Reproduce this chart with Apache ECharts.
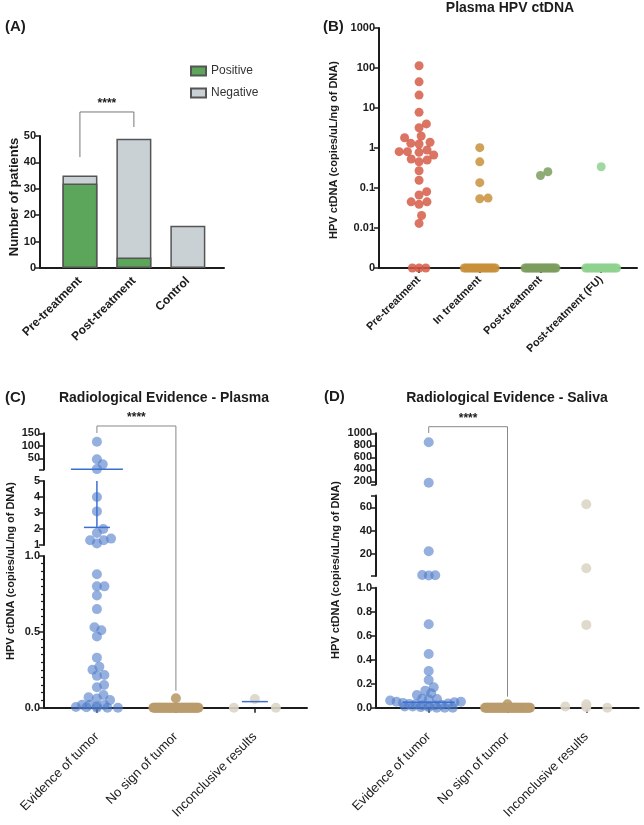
<!DOCTYPE html>
<html><head><meta charset="utf-8">
<script src="https://cdn.jsdelivr.net/npm/echarts@6/dist/echarts.min.js"></script>
<style>html,body{margin:0;padding:0;background:#fff}#c{width:644px;height:825px}</style>
</head><body><div id="c"></div>
<script>
// ---------------- DATA ----------------
// (A) Number of patients
const aCategories = ['Pre-treatment', 'Post-treatment', 'Control'];
const aSeriesNames = ['Positive', 'Negative'];
const aPositive = [32, 4, 0];
const aNegative = [3, 45, 16];

// (B) Plasma HPV ctDNA (copies/uL/ng of DNA)
const bCategories = ['Pre-treatment', 'In treatment', 'Post-treatment', 'Post-treatment (FU)'];
const bPreTreatment = [114, 45, 21, 7.8, 4.0, 3.2, 2.0, 1.8, 1.39, 1.31, 1.26, 0.89, 0.81, 0.81, 0.78, 0.67, 0.53, 0.50, 0.45, 0.27, 0.156, 0.081, 0.067, 0.045, 0.045, 0.039, 0.0205, 0.013, 0, 0, 0];
const bInTreatment = [1.02, 0.45, 0.136, 0.056, 0.054, 0, 0, 0, 0, 0, 0, 0, 0, 0, 0, 0, 0, 0, 0, 0, 0, 0, 0];
const bPostTreatment = [0.255, 0.205, 0, 0, 0, 0, 0, 0, 0, 0, 0, 0, 0, 0, 0, 0, 0, 0, 0, 0, 0, 0];
const bPostTreatmentFU = [0.34, 0, 0, 0, 0, 0, 0, 0, 0, 0, 0, 0, 0, 0, 0, 0, 0, 0, 0];
const bTickValues = [0.001, 0.01, 0.1, 1, 10, 100, 1000];
const bTickLabels = ['0', '0.01', '0.1', '1', '10', '100', '1000'];

// (C) Radiological Evidence - Plasma
const cCategories = ['Evidence of tumor', 'No sign of tumor', 'Inconclusive results'];
const cEvidence = [116, 46, 26, 7, 4.0, 3.1, 2.0, 1.75, 1.4, 1.3, 1.3, 1.1, 0.88, 0.80, 0.80, 0.74, 0.65, 0.53, 0.51, 0.47, 0.33, 0.27, 0.25, 0.215, 0.21, 0.15, 0.135, 0.084, 0.069, 0.06, 0.05, 0.02, 0.02, 0.018, 0.01, 0.005, 0.003, 0, 0, 0];
const cNoSign = [0.062, 0, 0, 0, 0, 0, 0, 0, 0, 0, 0, 0, 0, 0, 0, 0, 0, 0, 0, 0, 0, 0, 0, 0, 0, 0, 0, 0, 0, 0, 0, 0, 0, 0, 0, 0, 0, 0, 0, 0, 0];
const cInconclusive = [0.057, 0, 0];
const cCentre = [6, null, 0.04];
const cErrorLow = [2.1, null, null];

// (D) Radiological Evidence - Saliva
const dCategories = ['Evidence of tumor', 'No sign of tumor', 'Inconclusive results'];
const dEvidence = [850, 175, 22.2, 1.8, 1.6, 1.5, 0.695, 0.447, 0.306, 0.231, 0.17, 0.142, 0.12, 0.106, 0.075, 0.072, 0.07, 0.06, 0.05, 0.05, 0.045, 0.04, 0.035, 0.03, 0.03, 0.025, 0.02, 0.02, 0.015, 0.01, 0.01, 0.005, 0.005, 0, 0, 0];
const dNoSign = [0.028, 0, 0, 0, 0, 0, 0, 0, 0, 0, 0, 0, 0, 0, 0, 0, 0, 0, 0, 0, 0, 0, 0, 0, 0, 0, 0, 0, 0, 0, 0, 0, 0, 0, 0, 0, 0, 0, 0, 0, 0];
const dInconclusive = [62.6, 7.7, 0.69, 0.028, 0.01, 0.005, 0];
const dCentre = [0.045, null, null];

// ---------------- STYLE / LAYOUT ----------------
const FONT = '"Liberation Sans", Arial, Helvetica, sans-serif';
const INK = '#1c1c1c';
const chart = echarts.init(document.getElementById('c'), null, {renderer: 'canvas'});

const grids = [
  {left: 40, top: 136, width: 184, height: 132},      // 0 A
  {left: 379, top: 28, width: 258, height: 240},      // 1 B
  {left: 44, top: 433.3, width: 263, height: 36.3},   // 2 C top
  {left: 44, top: 481, width: 263, height: 64},       // 3 C mid
  {left: 44, top: 556, width: 263, height: 151.7},    // 4 C bottom
  {left: 376, top: 433.3, width: 262.7, height: 51},  // 5 D top
  {left: 376, top: 495.6, width: 262.7, height: 80.4},// 6 D mid
  {left: 376, top: 587.7, width: 262.7, height: 120}  // 7 D bottom
];

const axLine = {show: true, onZero: false, lineStyle: {color: INK, width: 2}};
const tickLbl = {fontSize: 11, fontWeight: 'bold', color: INK, fontFamily: FONT, margin: 4, formatter: v => String(v)};
const yTick = {show: true, length: 5, lineStyle: {color: INK, width: 1.5}};

function catX(grid, min, max, cats, vals, extra) {
  return {
    gridIndex: grid, type: 'value', min: min, max: max,
    axisLine: axLine, splitLine: {show: false},
    axisTick: {show: true, customValues: vals, length: 5, lineStyle: {color: INK, width: 1.5}},
    axisLabel: Object.assign({}, tickLbl, {customValues: vals, formatter: v => cats[Math.round(v) - 1], rotate: 45}, extra)
  };
}
function hiddenX(grid, min, max) {
  return {gridIndex: grid, type: 'value', min: min, max: max, show: false};
}

const xAxes = [
  catX(0, 0.26, 3.67, aCategories, [1, 2, 3], {fontSize: 12, margin: 11}),
  catX(1, 0.34, 4.59, bCategories, [1, 2, 3, 4], {fontSize: 11, margin: 10}),
  hiddenX(2, 0.33, 3.66), hiddenX(3, 0.33, 3.66),
  catX(4, 0.33, 3.66, cCategories, [1, 2, 3], {fontSize: 13, fontWeight: 'normal', margin: 27}),
  hiddenX(5, 0.331, 3.665), hiddenX(6, 0.331, 3.665),
  catX(7, 0.331, 3.665, dCategories, [1, 2, 3], {fontSize: 13, fontWeight: 'normal', margin: 27})
];
xAxes[0].axisTick = {show: false};

function yAx(grid, o) {
  return Object.assign({gridIndex: grid, type: 'value', axisLine: axLine, splitLine: {show: false},
    axisTick: yTick, axisLabel: Object.assign({}, tickLbl)}, o);
}
const fmt1 = {formatter: v => v.toFixed(1)};
const yAxes = [
  yAx(0, {min: 0, max: 50, interval: 10}),
  yAx(1, {type: 'log', logBase: 10, min: 0.001, max: 1000, splitNumber: 6,
    axisTick: Object.assign({}, yTick, {customValues: bTickValues}),
    axisLabel: Object.assign({}, tickLbl, {customValues: bTickValues,
      formatter: v => bTickLabels[Math.round(Math.log10(v)) + 3]})}),
  yAx(2, {min: 5, max: 150, axisTick: Object.assign({}, yTick, {customValues: [5, 50, 100, 150]}),
    axisLabel: Object.assign({}, tickLbl, {customValues: [50, 100, 150]})}),
  yAx(3, {min: 1, max: 5, interval: 1}),
  yAx(4, {min: 0, max: 1, interval: 0.5, minorTick: {show: true, splitNumber: 10, length: 3, lineStyle: {color: INK, width: 1.2}},
    axisLabel: Object.assign({}, tickLbl, fmt1)}),
  yAx(5, {min: 150, max: 1000, axisTick: Object.assign({}, yTick, {customValues: [150, 200, 400, 600, 800, 1000]}),
    axisLabel: Object.assign({}, tickLbl, {customValues: [200, 400, 600, 800, 1000]})}),
  yAx(6, {min: 1, max: 70, axisTick: Object.assign({}, yTick, {customValues: [1, 20, 40, 60, 70]}),
    axisLabel: Object.assign({}, tickLbl, {customValues: [20, 40, 60]})}),
  yAx(7, {min: 0, max: 1, interval: 0.2, axisLabel: Object.assign({}, tickLbl, fmt1)})
];

// ---------- scatter panels ----------
const panels = [
  {groups: [bPreTreatment, bInTreatment, bPostTreatment, bPostTreatmentFU],
   colors: ['#d65c48', '#c8913c', '#7d9e5e', '#8fd28f'], opac: [0.85, 0.85, 0.85, 0.85],
   segs: [{axis: 1, lo: 0.001, hi: 1000}], size: 9, D: 8.3, band: [6.7, 15.5, 15.5, 15.5]},
  {groups: [cEvidence, cNoSign, cInconclusive],
   colors: ['#4f7cc9', '#b99b6d', '#ddd6c8'], opac: [0.6, 0.9, 0.9],
   segs: [{axis: 4, lo: 0, hi: 1}, {axis: 3, lo: 1, hi: 5}, {axis: 2, lo: 5, hi: 150}], size: 10, D: 7.5, band: [21, 22.5, 21]},
  {groups: [dEvidence, dNoSign, dInconclusive],
   colors: ['#4f7cc9', '#b99b6d', '#ddd6c8'], opac: [0.6, 0.9, 0.9],
   segs: [{axis: 7, lo: 0, hi: 1}, {axis: 6, lo: 1, hi: 70}, {axis: 5, lo: 150, hi: 1000}], size: 10, D: 6.5, band: [24, 22.5, 21]}
];

// Bars: the "Negative" bar is drawn at its stacked top (Positive + Negative) behind the Positive bar.
const series = [
  {name: aSeriesNames[1], type: 'bar', xAxisIndex: 0, yAxisIndex: 0, barWidth: 35, barGap: '-100%', z: 2,
   data: aNegative.map((v, i) => [i + 1, aPositive[i] + v]),
   itemStyle: {color: '#c9d1d4', borderColor: '#555', borderWidth: 1.5}},
  {name: aSeriesNames[0], type: 'bar', xAxisIndex: 0, yAxisIndex: 0, barWidth: 35, barGap: '-100%', z: 3,
   data: aPositive.map((v, i) => [i + 1, v > 0 ? v : '-']),
   itemStyle: {color: '#5ba65b', borderColor: '#555', borderWidth: 1.5}}
];
const points = [];
panels.forEach(p => {
  p.groups.forEach((arr, g) => {
    p.segs.forEach(s => {
      const si = series.length;
      const ser = {type: 'scatter', xAxisIndex: s.axis, yAxisIndex: s.axis, symbolSize: p.size,
        itemStyle: {color: p.colors[g], opacity: p.opac[g]}, data: [], z: 3};
      arr.forEach(v => {
        const seg = p.segs.find(q => v <= q.hi);
        if (seg !== s) return;
        const vp = Math.max(v, s.lo);
        points.push({p, g, v, vp, axis: s.axis, si, di: ser.data.length});
        ser.data.push([g + 1, vp]);
      });
      series.push(ser);
    });
  });
});

chart.setOption({
  animation: false,
  grid: grids, xAxis: xAxes, yAxis: yAxes, series: series,
  legend: {data: aSeriesNames, orient: 'vertical', left: 190, top: 65, padding: 0, itemWidth: 15, itemHeight: 9,
    itemGap: 10, icon: 'rect', selectedMode: false,
    textStyle: {fontSize: 12, color: '#333', fontFamily: FONT}}
});

// ---------- beeswarm layout (pixel space via axes) ----------
function px(axis, x, y) { return chart.convertToPixel({xAxisIndex: axis, yAxisIndex: axis}, [x, y]); }
function swarm(items, D, bandHalf) {
  const out = items.map(() => 0);
  const band = [], rest = [];
  items.forEach((it, i) => (it.base ? band : rest).push(i));
  band.forEach((i, k) => { out[i] = band.length > 1 ? -bandHalf + 2 * bandHalf * k / (band.length - 1) : 0; });
  const placed = [];
  rest.sort((a, b) => items[b].py - items[a].py);
  rest.forEach(i => {
    const y = items[i].py, blocks = [];
    placed.forEach(q => { const dy = Math.abs(q.y - y); if (dy < D) { const w = Math.sqrt(D * D - dy * dy); blocks.push([q.x - w, q.x + w]); } });
    const cands = [0];
    blocks.forEach(b => cands.push(b[0], b[1]));
    cands.sort((a, b) => Math.abs(a) - Math.abs(b) || b - a);
    let x = 0;
    for (const c of cands) { if (!blocks.some(b => c > b[0] + 1e-6 && c < b[1] - 1e-6)) { x = c; break; } }
    out[i] = x; placed.push({x, y});
  });
  return out;
}
panels.forEach(p => {
  const bs = p.segs[0];
  const basePy = px(bs.axis, 1, bs.lo)[1];
  const unit = px(bs.axis, 2, bs.lo)[0] - px(bs.axis, 1, bs.lo)[0];
  p.groups.forEach((arr, g) => {
    const pts = points.filter(q => q.p === p && q.g === g);
    const items = pts.map(q => { const py = px(q.axis, g + 1, q.vp)[1]; return {py, base: q.v === 0 || py > basePy - 1.5}; });
    const dx = swarm(items, p.D, p.band[g]);
    pts.forEach((q, k) => { series[q.si].data[q.di] = [g + 1 + dx[k] / unit, q.vp]; });
  });
});

// ---------- annotations ----------
const G = [];
function txt(x, y, text, o) {
  G.push({type: 'text', x, y, rotation: (o && o.rot) || 0, z: 10,
    style: Object.assign({text, fontFamily: FONT, fontSize: 12, fontWeight: 'bold', fill: INK, align: 'center', verticalAlign: 'middle'}, o || {})});
}
function pl(points, color, w) {
  G.push({type: 'polyline', z: 10, shape: {points}, style: {stroke: color, lineWidth: w, fill: null}});
}
// panel letters & titles
txt(5, 27, '(A)', {fontSize: 15, align: 'left'});
txt(323, 27, '(B)', {fontSize: 15, align: 'left'});
txt(5, 398, '(C)', {fontSize: 15, align: 'left'});
txt(324, 397, '(D)', {fontSize: 15, align: 'left'});
txt(510, 8, 'Plasma HPV ctDNA', {fontSize: 14});
txt(164, 398, 'Radiological Evidence - Plasma', {fontSize: 14});
txt(507, 398, 'Radiological Evidence - Saliva', {fontSize: 14});
// y axis names
txt(14, 197, 'Number of patients', {fontSize: 13, rot: Math.PI / 2});
txt(334, 150, 'HPV ctDNA (copies/uL/ng of DNA)', {fontSize: 11, rot: Math.PI / 2});
txt(11, 571, 'HPV ctDNA (copies/uL/ng of DNA)', {fontSize: 11, rot: Math.PI / 2});
txt(336, 570, 'HPV ctDNA (copies/uL/ng of DNA)', {fontSize: 11, rot: Math.PI / 2});

// significance brackets
function bracket(l, t, r, color) {
  const L = px(l[0], l[1], l[2]), T1 = px(t[0], l[1], t[2]), T2 = px(t[0], r[1], t[2]), R = px(r[0], r[1], r[2]);
  pl([L, T1, T2, R], color, 1);
  txt((T1[0] + T2[0]) / 2, T1[1] - 8, '****', {fontSize: 12});
}
bracket([0, 1, 42], [0, 0, 59.1], [0, 2, 53.4], '#777');
bracket([2, 1, 151.2], [2, 0, 179.2], [4, 2, 0.112], '#888');
bracket([5, 1, 1005], [5, 0, 1110], [7, 2, 0.092], '#888');

// centre lines / error bars
const LINEC = '#3d6fd1';
function hline(axis, g, v, half) { const c = px(axis, g + 1, v); pl([[c[0] - half, c[1]], [c[0] + half, c[1]]], LINEC, 1.5); }
const cHalf = [26, 26, 13];
cCentre.forEach((v, g) => { if (v == null) return; const seg = panels[1].segs.find(q => v <= q.hi); hline(seg.axis, g, v, cHalf[g]); });
cErrorLow.forEach((v, g) => {
  if (v == null) return;
  const seg = panels[1].segs.find(q => v <= q.hi);
  hline(seg.axis, g, v, 13);
  const a = px(seg.axis, g + 1, v), b = px(seg.axis, g + 1, Math.min(seg.hi, cCentre[g]));
  pl([a, b], LINEC, 1.5);
});
dCentre.forEach((v, g) => { if (v == null) return; const seg = panels[2].segs.find(q => v <= q.hi); hline(seg.axis, g, v, 26); });

chart.setOption({series: series, graphic: G});
</script></body></html>
